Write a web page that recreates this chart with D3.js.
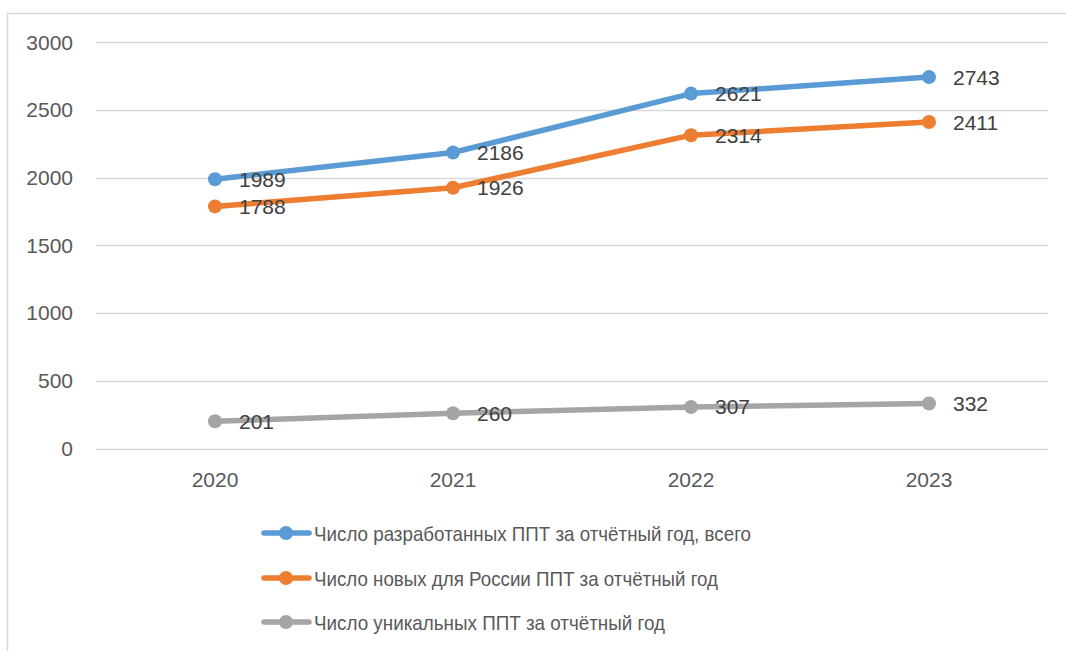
<!DOCTYPE html>
<html>
<head>
<meta charset="utf-8">
<script src="https://cdn.jsdelivr.net/npm/d3@7"></script>
<style>
  body { margin: 0; background: #fff; }
  svg { display: block; font-family: "Liberation Sans", Arial, sans-serif; }
</style>
</head>
<body>
<script>
(function(){

//chart data
var years = ["2020", "2021", "2022", "2023"];
var seriesNames = [
    "Число разработанных ППТ за отчётный год, всего",
    "Число новых для России ППТ за отчётный год",
    "Число уникальных ППТ за отчётный год"
];
var totalValues = [1989, 2186, 2621, 2743];
var newValues = [1788, 1926, 2314, 2411];
var uniqueValues = [201, 260, 307, 332];
var yTicks = [0, 500, 1000, 1500, 2000, 2500, 3000];
var seriesColors = ["#5B9BD5", "#ED7D31", "#A5A5A5"];

var series = [totalValues, newValues, uniqueValues];

var width = 1066,
    height = 651;

var svg = d3.select("body")
    .append("svg")
    .attr("width", width)
    .attr("height", height);

//outer chart frame
svg.append("rect")
    .attr("x", 7.5)
    .attr("y", 13.5)
    .attr("width", 1100)
    .attr("height", 700)
    .attr("fill", "#fff")
    .attr("stroke", "#d9d9d9")
    .attr("stroke-width", 1.5);

var plotLeft = 96, plotRight = 1048, plotTop = 42.3, plotBottom = 448.5;

var x = d3.scaleBand()
    .domain(years)
    .range([plotLeft, plotRight])
    .padding(0);

var y = d3.scaleLinear()
    .domain([0, 3000])
    .range([plotBottom, plotTop]);

function cx(d, i){
    return x(years[i]) + x.bandwidth() / 2;
}

//gridlines
svg.selectAll(".grid")
    .data(yTicks)
    .enter()
    .append("line")
    .attr("class", "grid")
    .attr("x1", plotLeft)
    .attr("x2", plotRight)
    .attr("y1", function(d){ return Math.round(y(d)) + 0.5; })
    .attr("y2", function(d){ return Math.round(y(d)) + 0.5; })
    .attr("stroke", "#d9d9d9")
    .attr("stroke-width", 1.5);

//y axis labels
svg.selectAll(".ytick")
    .data(yTicks)
    .enter()
    .append("text")
    .attr("class", "ytick")
    .attr("x", 73)
    .attr("y", function(d){ return y(d); })
    .attr("dy", "0.35em")
    .attr("text-anchor", "end")
    .attr("fill", "#595959")
    .style("font-size", "21px")
    .text(function(d){ return d; });

//x axis labels
svg.selectAll(".xtick")
    .data(years)
    .enter()
    .append("text")
    .attr("class", "xtick")
    .attr("x", function(d){ return x(d) + x.bandwidth() / 2; })
    .attr("y", 487)
    .attr("text-anchor", "middle")
    .attr("fill", "#595959")
    .style("font-size", "21px")
    .text(function(d){ return d; });

var line = d3.line()
    .x(cx)
    .y(function(d){ return y(d); });

series.forEach(function(vals, s){
    svg.append("path")
        .datum(vals)
        .attr("d", line)
        .attr("fill", "none")
        .attr("stroke", seriesColors[s])
        .attr("stroke-width", 5.5)
        .attr("stroke-linecap", "round")
        .attr("stroke-linejoin", "round");

    svg.selectAll(".pt" + s)
        .data(vals)
        .enter()
        .append("circle")
        .attr("class", "pt" + s)
        .attr("cx", cx)
        .attr("cy", function(d){ return y(d); })
        .attr("r", 7)
        .attr("fill", seriesColors[s]);

    svg.selectAll(".lbl" + s)
        .data(vals)
        .enter()
        .append("text")
        .attr("class", "lbl" + s)
        .attr("x", function(d, i){ return cx(d, i) + 24; })
        .attr("y", function(d){ return y(d); })
        .attr("dy", "0.36em")
        .attr("fill", "#404040")
        .style("font-size", "21px")
        .text(function(d){ return d; });
});

//legend
var legendRows = [533, 578, 622];
var legendWidths = [437, 404, 351];
seriesNames.forEach(function(name, s){
    var g = svg.append("g")
        .attr("transform", "translate(0," + legendRows[s] + ")");
    g.append("line")
        .attr("x1", 264)
        .attr("x2", 309)
        .attr("stroke", seriesColors[s])
        .attr("stroke-width", 5.5)
        .attr("stroke-linecap", "round");
    g.append("circle")
        .attr("cx", 286)
        .attr("r", 7)
        .attr("fill", seriesColors[s]);
    g.append("text")
        .attr("x", 314)
        .attr("dy", "0.36em")
        .attr("fill", "#595959")
        .style("font-size", "21px")
        .attr("textLength", legendWidths[s])
        .attr("lengthAdjust", "spacingAndGlyphs")
        .text(name);
});

})();
</script>
</body>
</html>
